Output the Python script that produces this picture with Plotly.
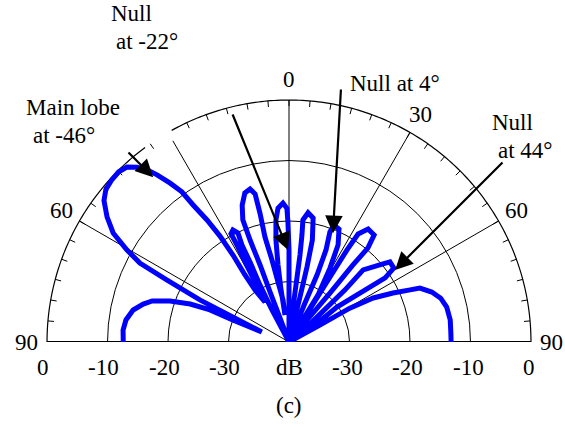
import numpy as np
import plotly.graph_objects as go

# Array pattern, traced from -90 deg to +90 deg (angle in degrees, level in dB)
theta_deg = [
    -90.0, -85.9, -82.3, -78.4, -75.4, -73.3, -71.0, -69.0, -67.9, -68.6, -69.7,
    -66.0, -64.7, -63.1, -62.1, -60.4, -58.2, -55.5, -52.6, -50.2, -47.7, -45.0,
    -42.8, -41.0, -39.5, -38.3, -36.8, -35.5, -35.0, -33.9, -33.1, -32.8, -33.3,
    -33.2, -31.0,
    -29.5, -28.8, -28.2, -28.2, -26.6, -25.1, -25.9, -26.0, -27.0, -28.0, -22.0,
    -20.6, -20.8, -20.6, -20.9, -20.7, -18.9, -16.5, -14.3, -12.9, -12.7, -12.9,
    -11.7, -10.4, -8.1, -8.4,
    -8.7, -8.1, -7.3, -6.1, -4.7, -2.5, -0.9, -0.5, 0.0, 0.0, 4.0,
    6.3, 7.0, 7.2, 6.9, 6.5, 8.4, 11.0, 12.9, 13.5, 13.7, 15.0,
    22.3, 22.7, 21.9, 20.4, 21.0, 23.9, 26.8, 29.0, 31.7, 28.0,
    32.6, 32.3, 32.2, 32.6, 35.0, 38.5, 40.0, 39.7, 39.9, 39.3, 44.0,
    49.0, 47.1, 45.8, 50.3, 51.6, 54.8, 56.3, 55.6, 53.9, 56.8, 60.0,
    61.3, 60.9, 62.4, 64.8, 66.7, 67.6, 70.7, 73.9, 77.5, 82.2, 86.5, 90.0,
]
level_db = [
    -12.6, -12.5, -12.8, -13.7, -15.1, -16.4, -19.2, -22.5, -25.9, -30.1, -35.2,
    -29.9, -23.7, -17.4, -12.1, -9.2, -5.8, -3.5, -1.5, -0.6, -0.3, -0.2,
    -0.6, -1.7, -3.1, -4.8, -7.2, -9.5, -12.3, -15.7, -19.1, -22.9, -26.7,
    -29.7, -32.3,
    -28.6, -24.9, -21.8, -19.7, -19.3, -20.1, -22.2, -25.3, -29.4, -34.0, -40.0,
    -35.8, -31.2, -26.4, -22.0, -18.4, -16.1, -14.3, -13.9, -14.9, -18.2, -22.2,
    -26.2, -29.9, -33.0, -35.5,
    -31.3, -27.1, -23.0, -19.7, -17.8, -17.0, -17.9, -20.2, -24.8, -31.4, -40.0,
    -35.5, -30.5, -25.5, -22.2, -19.7, -18.4, -19.1, -22.7, -27.3, -32.3, -40.0,
    -33.0, -28.0, -23.6, -20.6, -19.3, -19.6, -22.0, -26.0, -30.9, -40.0,
    -35.1, -28.9, -22.0, -18.8, -17.2, -17.4, -19.7, -23.5, -29.4, -35.3, -40.0,
    -35.0, -27.4, -22.9, -19.8, -18.7, -18.8, -20.9, -24.8, -30.2, -34.9, -40.0,
    -34.1, -28.5, -24.3, -21.0, -18.2, -16.6, -15.0, -13.9, -13.3, -13.1, -13.2, -13.2,
]

# Grid and labels
ring_levels = [-30, -20, -10]
spoke_angles = [-60, -30, 0, 30, 60]
label_angles = [-90, -60, 0, 30, 60, 90]
label_texts = ["90", "60", "0", "30", "60", "90"]
scale_values = [0, -10, -20, -30]

# Annotated features: (text lines, arrow head angle, arrow head level)
callouts = [
    ("Main lobe", "at -46°", -39.5, -4.7),
    ("Null", "at -22°", -0.6, -24.8),
    ("Null at 4°", None, 22.0, -20.6),
    ("Null", "at 44°", 55.8, -18.8),
]

# ---- page geometry ----
R_MIN, R_MAX = -40.0, 0.5
W, H = 565, 427
CX, CY = 289, 342
RADIUS = 245.0
M_L, M_R, M_T, M_B = CX - RADIUS, W - CX - RADIUS, CY - RADIUS, H - CY

FONT = dict(family="Liberation Serif, Times New Roman, serif", size=23, color="black")


def polar_px(theta, db, extra=0.0):
    rr = (db - R_MIN) / (R_MAX - R_MIN) * RADIUS + extra
    t = np.radians(theta)
    return CX + rr * np.sin(t), CY - rr * np.cos(t)


def px_to_paper(x, y):
    return (x - M_L) / (2 * RADIUS), (CY - y) / RADIUS


fig = go.Figure()

# outer 0 dB arc (open between -36.5 and -29 deg)
arc_theta = list(np.linspace(-90, -36.5, 80)) + [None] + list(np.linspace(-29, 90, 160))
arc_r = [0.0 if t is not None else None for t in arc_theta]
fig.add_trace(go.Scatterpolar(r=arc_r, theta=arc_theta, mode="lines",
                              line=dict(color="black", width=1.2), hoverinfo="skip"))

# radial spokes
sp_r, sp_t = [], []
for a in spoke_angles:
    top = -1.6 if a == -30 else 0.0
    sp_r += [top, R_MIN, None]
    sp_t += [a, a, None]
fig.add_trace(go.Scatterpolar(r=sp_r, theta=sp_t, mode="lines",
                              line=dict(color="black", width=1), hoverinfo="skip"))

# baseline along +-90 deg
fig.add_trace(go.Scatterpolar(r=[0.0, R_MIN, 0.0], theta=[-90, 0, 90], mode="lines",
                              line=dict(color="black", width=2.2), hoverinfo="skip"))

# 5-degree tick marks on the outer arc
tk_r, tk_t = [], []
for a in range(-85, 90, 5):
    if a == -30:
        continue
    tk_r += [0.0, -1.0, None]
    tk_t += [a, a, None]
fig.add_trace(go.Scatterpolar(r=tk_r, theta=tk_t, mode="lines",
                              line=dict(color="black", width=1), hoverinfo="skip"))

# pattern
fig.add_trace(go.Scatterpolar(r=level_db, theta=theta_deg, mode="lines",
                              line=dict(color="#0000ff", width=5), hoverinfo="skip"))

annotations = []

# angle labels
for a, txt in zip(label_angles, label_texts):
    x, y = polar_px(a, 0.0, extra=21)
    px, py = px_to_paper(x, y)
    annotations.append(dict(x=px, y=py, xref="paper", yref="paper", text=txt,
                            showarrow=False, font=FONT, xanchor="center", yanchor="middle"))

# dB scale labels under the baseline
for side in (-90, 90):
    for v in scale_values:
        x, y = polar_px(side, v)
        x += -4 if side < 0 else -2
        px, py = px_to_paper(x, y + 25)
        annotations.append(dict(x=px, y=py, xref="paper", yref="paper", text=str(v),
                                showarrow=False, font=FONT, xanchor="center", yanchor="middle"))
px, py = px_to_paper(CX, CY + 25)
annotations.append(dict(x=px, y=py, xref="paper", yref="paper", text="dB",
                        showarrow=False, font=FONT, xanchor="center", yanchor="middle"))

# callout texts and arrows
text_pos = [
    [(73, 107), (64, 135)],
    [(131, 14), (147, 42)],
    [(395, 83)],
    [(512, 122), (525, 150)],
]
tails = [(127, 151), (232, 113), (341, 88), (504, 161)]
for (l1, l2, th, db), pos, tail in zip(callouts, text_pos, tails):
    for txt, (x, y) in zip([l1, l2], pos):
        if txt is None:
            continue
        px, py = px_to_paper(x, y)
        annotations.append(dict(x=px, y=py, xref="paper", yref="paper", text=txt,
                                showarrow=False, font=FONT, xanchor="center", yanchor="middle"))
    hx, hy = polar_px(th, db)
    px, py = px_to_paper(hx, hy)
    annotations.append(dict(x=px, y=py, xref="paper", yref="paper", text="",
                            showarrow=True, ax=tail[0] - hx, ay=tail[1] - hy,
                            axref="pixel", ayref="pixel", arrowhead=2, arrowsize=1.6,
                            arrowwidth=2.2, arrowcolor="black", standoff=0))

px, py = px_to_paper(289, 405)
annotations.append(dict(x=px, y=py, xref="paper", yref="paper", text="(c)",
                        showarrow=False, font=FONT, xanchor="center", yanchor="middle"))

fig.update_layout(
    width=W, height=H, autosize=False,
    margin=dict(l=M_L, r=M_R, t=M_T, b=M_B, pad=0),
    paper_bgcolor="white", plot_bgcolor="white",
    showlegend=False,
    font=FONT,
    polar=dict(
        domain=dict(x=[0, 1], y=[0, 1]),
        sector=[0, 180],
        bgcolor="white",
        radialaxis=dict(range=[R_MIN, R_MAX], tickvals=ring_levels, showticklabels=False,
                        ticks="", showline=False, showgrid=True, gridcolor="black",
                        gridwidth=1),
        angularaxis=dict(rotation=90, direction="clockwise", thetaunit="degrees",
                         showticklabels=False, ticks="", showline=False, showgrid=False),
    ),
    annotations=annotations,
)

fig.write_html("out.html")
